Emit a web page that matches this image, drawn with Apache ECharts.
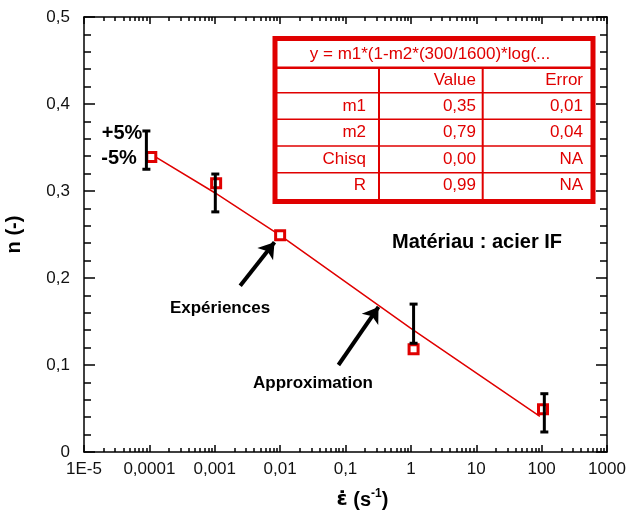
<!DOCTYPE html>
<html>
<head>
<meta charset="utf-8">
<script src="https://cdn.jsdelivr.net/npm/echarts@6/dist/echarts.min.js"></script>
<style>
  html, body { margin: 0; padding: 0; background: #fff; }
  #chart { width: 628px; height: 524px; }
</style>
</head>
<body>
<div id="chart"></div>
<script>
// measured points (strain rate, n)
const expX = [1.07e-4, 1.05e-3, 1e-2, 1.1, 105];
const expY = [0.339, 0.309, 0.249, 0.118, 0.049];

// +5% / -5% bars
const errX = [9e-5, 1.02e-3, 1.1, 110];
const errLow = [0.325, 0.276, 0.125, 0.023];
const errHigh = [0.369, 0.3195, 0.170, 0.067];

// fitted curve
const fitX = [1.07e-4, 1e-3, 1e-2, 1, 94];
const fitY = [0.342, 0.298, 0.249, 0.142, 0.041];

// annotation arrows, tail -> tip
const arrowFrom = [[0.00245, 0.191], [0.078, 0.100]];
const arrowTo = [[0.0082, 0.241], [0.32, 0.1667]];

const xTickLabels = ['1E-5', '0,0001', '0,001', '0,01', '0,1', '1', '10', '100', '1000'];
const yTickLabels = ['0', '0,1', '0,2', '0,3', '0,4', '0,5'];

const tableHead = 'y = m1*(1-m2*(300/1600)*log(...';
const tableCols = ['', 'Value', 'Error'];
const tableRows = [
   ['m1', '0,35', '0,01'],
   ['m2', '0,79', '0,04'],
   ['Chisq', '0,00', 'NA'],
   ['R', '0,99', 'NA']
];

const xMinorTicks = [];
for (let e = -5; e < 3; e++) {
   for (let m = 2; m < 10; m++) {
      xMinorTicks.push(m * Math.pow(10, e));
   }
}

const red = '#e00000';
const font = '"Liberation Sans", Arial, sans-serif';
const black = { color: '#000', width: 1.5 };

const chart = echarts.init(document.getElementById('chart'));

// table and free text
const graphic = [];
graphic.push({
   type: 'rect', z: 10,
   shape: { x: 275, y: 38.5, width: 318, height: 163 },
   style: { fill: '#fff', stroke: red, lineWidth: 5 }
});
const rowLines = [67.7, 92.7, 119.3, 146, 172.7];
rowLines.forEach(function (y, i) {
   graphic.push({
      type: 'line', z: 11,
      shape: { x1: 277, y1: y, x2: 591, y2: y },
      style: { stroke: red, lineWidth: i === 0 ? 2.5 : 1.5 }
   });
});
[379, 482.7].forEach(function (x) {
   graphic.push({
      type: 'line', z: 11,
      shape: { x1: x, y1: 67.7, x2: x, y2: 199 },
      style: { stroke: red, lineWidth: 2 }
   });
});
const colRight = [366, 476, 583];
const rowMid = [80, 106, 132.7, 159, 185.5];
function cellText(txt, x, y, align) {
   return {
      type: 'text', z: 12, x: x, y: y,
      style: {
         text: txt, fill: red, font: '17px ' + font,
         align: align, textAlign: align,
         verticalAlign: 'middle', textVerticalAlign: 'middle'
      }
   };
}
graphic.push(cellText(tableHead, 430, 54, 'center'));
[tableCols].concat(tableRows).forEach(function (row, r) {
   row.forEach(function (txt, c) {
      if (txt) graphic.push(cellText(txt, colRight[c], rowMid[r], 'right'));
   });
});
function note(txt, x, y, size) {
   return {
      type: 'text', z: 12, x: x, y: y,
      style: {
         text: txt, fill: '#000', font: 'bold ' + size + 'px ' + font,
         align: 'center', textAlign: 'center',
         verticalAlign: 'middle', textVerticalAlign: 'middle'
      }
   };
}
graphic.push(note('+5%', 122, 133, 20));
graphic.push(note('-5%', 119, 158, 20));
graphic.push(note('Expériences', 220, 308, 17));
graphic.push(note('Approximation', 313, 383, 17));
graphic.push(note('Matériau : acier IF', 477, 242, 20));

const baseX = {
   type: 'log', logBase: 10, min: 1e-5, max: 1000, splitNumber: 8,
   splitLine: { show: false }
};
const baseY = {
   type: 'value', min: 0, max: 0.5, interval: 0.1,
   splitLine: { show: false },
   axisLine: { show: true, lineStyle: black },
   axisTick: { show: true, inside: true, length: 11, lineStyle: black },
   minorTick: { show: true, splitNumber: 5, length: 7, lineStyle: black }
};

const option = {
   animation: false,
   backgroundColor: '#fff',
   grid: { left: 84, right: 21, top: 17, bottom: 72, outerBoundsMode: 'none' },
   graphic: graphic,
   xAxis: [
      Object.assign({}, baseX, {
         position: 'bottom',
         axisLine: { lineStyle: black },
         axisTick: { inside: true, length: 7, lineStyle: black },
         axisLabel: {
            margin: 9, fontSize: 17, color: '#111', fontFamily: font,
            formatter: function (v) { return xTickLabels[Math.round(Math.log10(v)) + 5]; }
         },
         name: '{e|ε̇}{a| (s}{b|-1}{a|)}',
         nameLocation: 'middle',
         nameGap: 36,
         nameTextStyle: {
            padding: [0, 0, 0, 34],
            rich: {
               e: { fontSize: 20, fontWeight: 'bold', fontFamily: '"DejaVu Sans"', color: '#000', lineHeight: 24 },
               a: { fontSize: 20, fontWeight: 'bold', fontFamily: font, color: '#000', lineHeight: 24 },
               b: { fontSize: 12, fontWeight: 'bold', fontFamily: font, color: '#000', verticalAlign: 'top', lineHeight: 14 }
            }
         }
      }),
      Object.assign({}, baseX, {
         position: 'bottom',
         axisLine: { show: false },
         axisTick: { inside: true, length: 4, customValues: xMinorTicks, lineStyle: black },
         axisLabel: { show: false }
      }),
      Object.assign({}, baseX, {
         position: 'top',
         axisLine: { lineStyle: black },
         axisTick: { inside: true, length: 7, lineStyle: black },
         axisLabel: { show: false }
      }),
      Object.assign({}, baseX, {
         position: 'top',
         axisLine: { show: false },
         axisTick: { inside: true, length: 4, customValues: xMinorTicks, lineStyle: black },
         axisLabel: { show: false }
      })
   ],
   yAxis: [
      Object.assign({}, baseY, {
         position: 'left',
         axisLabel: {
            margin: 14, fontSize: 17, color: '#111', fontFamily: font,
            formatter: function (v) { return yTickLabels[Math.round(v * 10)]; }
         },
         name: 'n (-)',
         nameLocation: 'middle',
         nameGap: 60,
         nameTextStyle: { fontSize: 20, fontWeight: 'bold', fontFamily: font, color: '#000' }
      }),
      Object.assign({}, baseY, {
         position: 'right',
         axisLabel: { show: false }
      })
   ],
   series: [
      {
         name: 'Approximation',
         type: 'line',
         data: fitX.map(function (x, i) { return [x, fitY[i]]; }),
         symbol: 'none',
         lineStyle: { color: red, width: 1.5 },
         z: 2
      },
      {
         name: 'Expériences',
         type: 'scatter',
         data: expX.map(function (x, i) { return [x, expY[i]]; }),
         symbol: 'rect',
         symbolSize: 9,
         itemStyle: { color: '#fff', borderColor: red, borderWidth: 3, opacity: 1 },
         z: 3
      },
      {
         name: 'err',
         type: 'custom',
         data: errX.map(function (x, i) { return [x, errLow[i], errHigh[i]]; }),
         renderItem: function (params, api) {
            const lo = api.coord([api.value(0), api.value(1)]);
            const hi = api.coord([api.value(0), api.value(2)]);
            const w = 4;
            const st = { stroke: '#000', lineWidth: 3 };
            return {
               type: 'group',
               children: [
                  { type: 'line', shape: { x1: lo[0], y1: lo[1], x2: hi[0], y2: hi[1] }, style: st },
                  { type: 'line', shape: { x1: lo[0] - w, y1: lo[1], x2: lo[0] + w, y2: lo[1] }, style: st },
                  { type: 'line', shape: { x1: hi[0] - w, y1: hi[1], x2: hi[0] + w, y2: hi[1] }, style: st }
               ]
            };
         },
         z: 4
      },
      {
         name: 'arrows',
         type: 'lines',
         coordinateSystem: 'cartesian2d',
         data: arrowFrom.map(function (p, i) { return { coords: [p, arrowTo[i]] }; }),
         symbol: ['none', 'arrow'],
         symbolSize: 15,
         lineStyle: { color: '#000', width: 4, opacity: 1 },
         z: 5
      }
   ]
};
chart.setOption(option);
</script>
</body>
</html>
